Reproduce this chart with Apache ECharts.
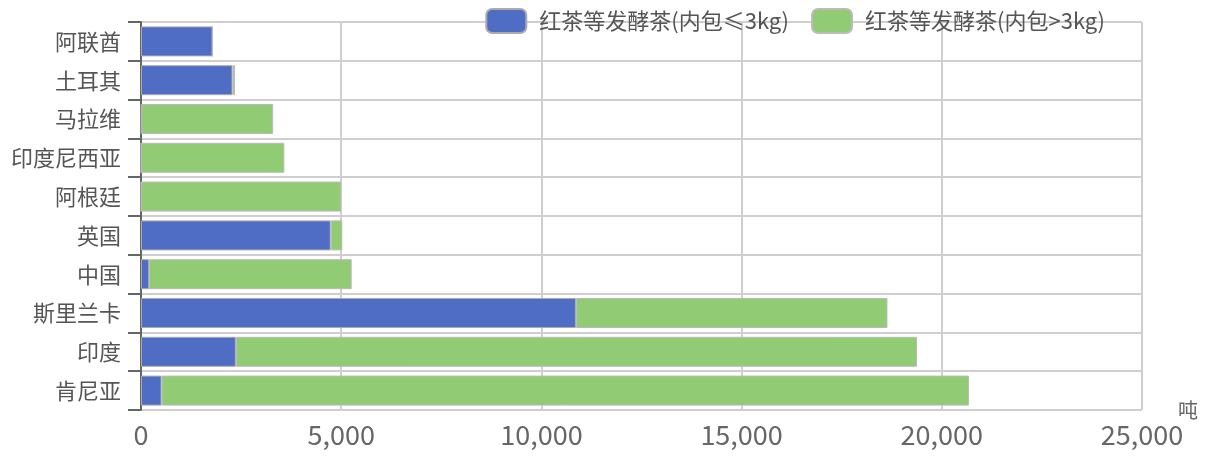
<!DOCTYPE html>
<html><head><meta charset="utf-8">
<script src="https://cdn.jsdelivr.net/npm/echarts@6/dist/echarts.min.js"></script>
<style>html,body{margin:0;padding:0;background:#fff}#c{width:1210px;height:457px}</style>
</head><body><div id="c"></div>
<script>
const categories = ['肯尼亚','印度','斯里兰卡','中国','英国','阿根廷','印度尼西亚','马拉维','土耳其','阿联酋'];
const seriesNames = ['红茶等发酵茶(内包≤3kg)','红茶等发酵茶(内包>3kg)'];
const small = [514, 2369, 10862, 200, 4738, 0, 0, 10, 2285, 1786];
const large = [20166, 17013, 7781, 5062, 290, 5000, 3580, 3290, 65, 0];
const xTicks = [0, 5000, 10000, 15000, 20000, 25000];
const unitName = '吨';

const chart = echarts.init(document.getElementById('c'));
const font = '"Noto Sans CJK SC", "Microsoft YaHei", sans-serif';
chart.setOption({
  animation: false,
  textStyle: {fontFamily: font},
  legend: {
    right: 100, top: 3, itemWidth: 40, itemHeight: 24, itemGap: 22,
    itemStyle: {borderRadius: 5},
    textStyle: {fontSize: 22, color: '#555', fontFamily: font, padding: [0,0,0,8]},
    data: seriesNames
  },
  grid: {left: 141, right: 68, top: 22, bottom: 47},
  xAxis: {
    type: 'value', min: xTicks[0], max: xTicks[xTicks.length-1], interval: 5000,
    name: unitName, nameLocation: 'end', nameGap: 36,
    nameTextStyle: {fontSize: 20, color: '#666', verticalAlign: 'middle', padding: [0,0,6,0]},
    axisLine: {show: false}, axisTick: {show: false},
    axisLabel: {fontSize: 27, color: '#666', margin: 11,
      formatter: v => v.toLocaleString('en-US')},
    splitLine: {show: true, lineStyle: {color: '#cfcfcf', width: 2}}
  },
  yAxis: {
    type: 'category', data: categories,
    axisLine: {show: true, lineStyle: {color: '#666', width: 2}},
    axisTick: {show: true, length: 13, lineStyle: {color: '#666', width: 2}},
    axisLabel: {fontSize: 22, color: '#555', margin: 20},
    splitLine: {show: true, lineStyle: {color: '#cfcfcf', width: 2}}
  },
  series: [
    {name: seriesNames[0], type: 'bar', stack: 't', data: small, barWidth: 30,
     itemStyle: {color: '#4f6dc5', borderColor: '#aaa', borderWidth: 1}},
    {name: seriesNames[1], type: 'bar', stack: 't', data: large, barWidth: 30,
     itemStyle: {color: '#91cc75', borderColor: '#bbb', borderWidth: 1}}
  ]
});
</script></body></html>
